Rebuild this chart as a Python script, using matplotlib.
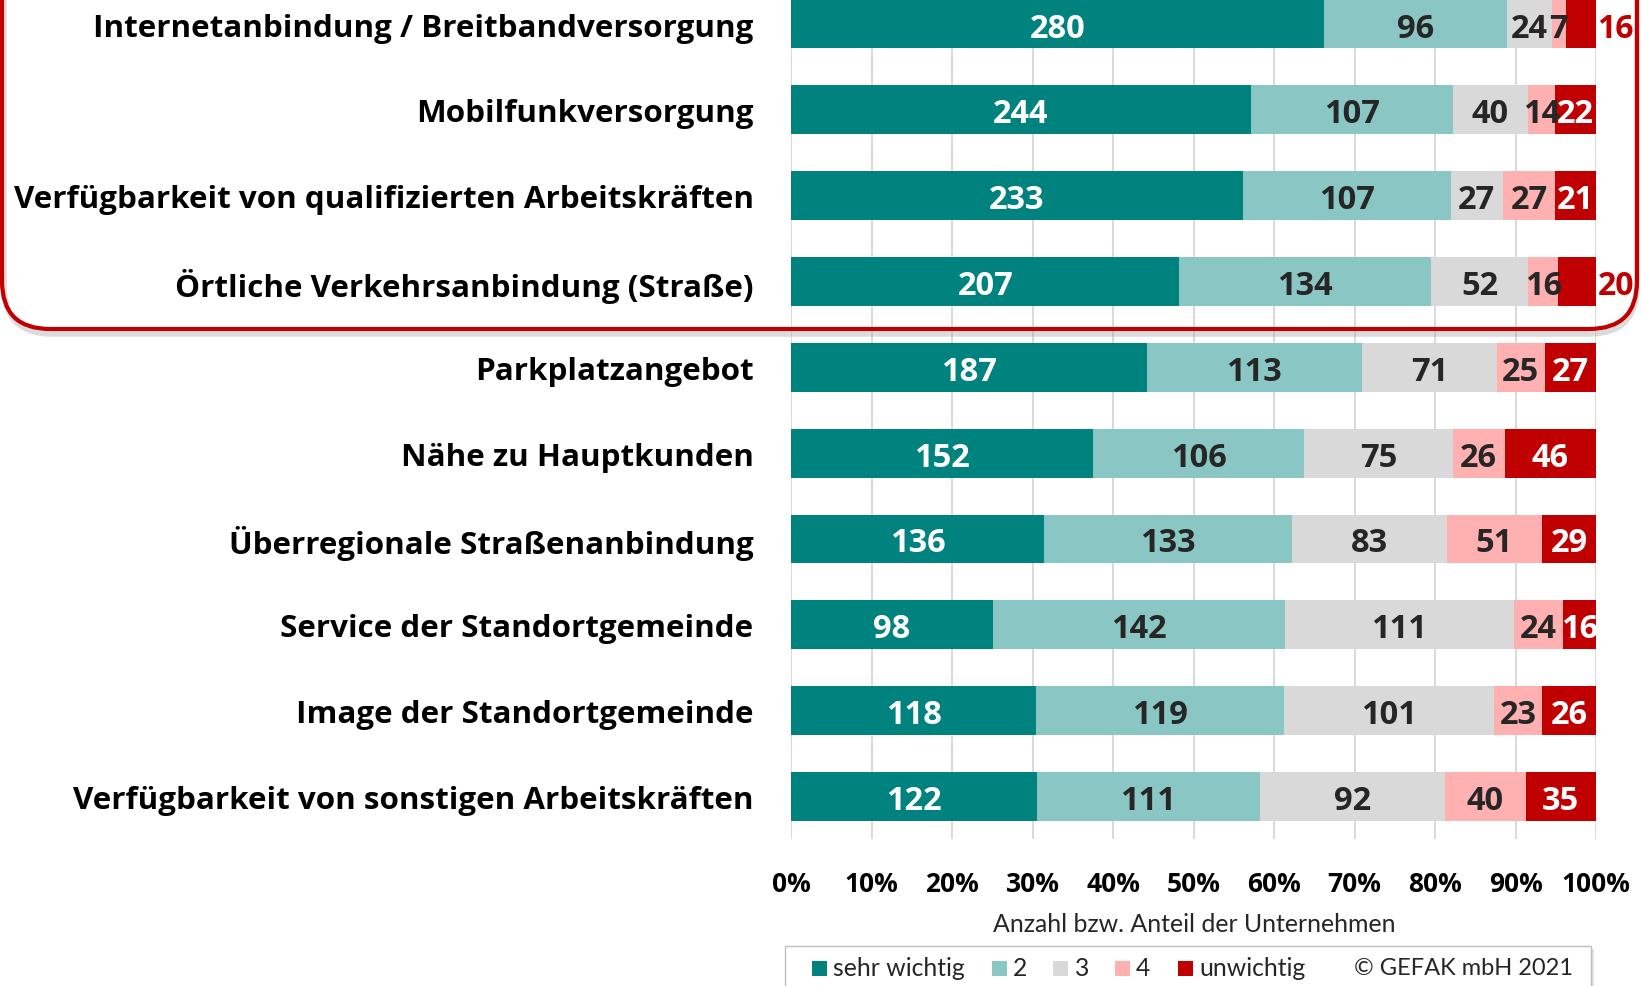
import matplotlib
matplotlib.use("Agg")
import matplotlib.pyplot as plt
from matplotlib.patches import FancyBboxPatch, Rectangle
from matplotlib.transforms import IdentityTransform
import numpy as np

categories = [
    "Internetanbindung / Breitbandversorgung",
    "Mobilfunkversorgung",
    "Verfügbarkeit von qualifizierten Arbeitskräften",
    "Örtliche Verkehrsanbindung (Straße)",
    "Parkplatzangebot",
    "Nähe zu Hauptkunden",
    "Überregionale Straßenanbindung",
    "Service der Standortgemeinde",
    "Image der Standortgemeinde",
    "Verfügbarkeit von sonstigen Arbeitskräften",
]
sehr_wichtig = [280, 244, 233, 207, 187, 152, 136, 98, 118, 122]
stufe_2 = [96, 107, 107, 134, 113, 106, 133, 142, 119, 111]
stufe_3 = [24, 40, 27, 52, 71, 75, 83, 111, 101, 92]
stufe_4 = [7, 14, 27, 16, 25, 26, 51, 24, 23, 40]
unwichtig = [16, 22, 21, 20, 27, 46, 29, 16, 26, 35]
series_names = ["sehr wichtig", "2", "3", "4", "unwichtig"]
xtick_labels = ["0%", "10%", "20%", "30%", "40%", "50%", "60%", "70%", "80%", "90%", "100%"]
x_label = "Anzahl bzw. Anteil der Unternehmen"
copyright_text = "© GEFAK mbH 2021"
outside_label_rows = [0, 3]

colors = ["#00827F", "#8AC6C4", "#D9D9D9", "#FFB1B1", "#C00000"]
label_colors = ["white", "#262626", "#262626", "#262626", "white"]

BOLD = ["Open Sans", "DejaVu Sans"]
REG = ["Lato", "DejaVu Sans"]
plt.rcParams["font.family"] = REG

W, H = 1641, 987
fig = plt.figure(figsize=(W / 100, H / 100), dpi=100)

def fx(x):
    return x / W

def fy(y):
    return 1 - y / H

ax_left, ax_right = 791, 1596
ax_top, ax_bottom = -17.9, 840.4
ax = fig.add_axes([fx(ax_left), fy(ax_bottom), (ax_right - ax_left) / W, (ax_bottom - ax_top) / H])

data = np.array([sehr_wichtig, stufe_2, stufe_3, stufe_4, unwichtig], dtype=float)
totals = data.sum(axis=0)
shares = data / totals * 100
n = len(categories)
ypos = np.arange(n)

VAL_FS = 23.5
left = np.zeros(n)
for k in range(5):
    ax.barh(ypos, shares[k], left=left, height=0.57, color=colors[k], zorder=2, label=series_names[k])
    for i in range(n):
        val = int(data[k, i])
        cx = left[i] + shares[k, i] / 2
        if k == 4 and i in outside_label_rows:
            ax.annotate(str(val), xy=(100, i), xytext=(1, 0), textcoords="offset points",
                        ha="left", va="center_baseline", color="#C00000", fontsize=VAL_FS - 0.5,
                        fontweight="bold", family=BOLD, zorder=4)
        else:
            ax.text(cx, i, str(val), ha="center", va="center_baseline", color=label_colors[k],
                    fontsize=VAL_FS, fontweight="bold", family=BOLD, zorder=4)
    left += shares[k]

ax.set_xlim(0, 100)
ax.set_ylim(n - 0.5, -0.5)
ax.set_xticks(np.arange(0, 101, 10))
ax.set_xticklabels(xtick_labels, fontsize=19, fontweight="bold", family=BOLD)
ax.set_yticks(ypos)
ax.set_yticklabels(categories, fontsize=22.6, fontweight="bold", family=BOLD)
ax.tick_params(axis="both", length=0)
ax.tick_params(axis="y", pad=27)
ax.tick_params(axis="x", pad=22)
ax.xaxis.grid(True, color="#D9D9D9", linewidth=1.4, zorder=0)
ax.set_axisbelow(True)
for s in ax.spines.values():
    s.set_visible(False)

fig.text(fx(1194), fy(925), x_label, ha="center", va="center", fontsize=17.9, color="#262626")

tr = IdentityTransform()
shadow = FancyBboxPatch((4, H - 335), 1633, 420, boxstyle="round,pad=0,rounding_size=48",
                        transform=tr, fill=False, edgecolor="#9a9a9a", linewidth=4, alpha=0.35,
                        zorder=0)
fig.patches.append(shadow)
box = FancyBboxPatch((2, H - 330), 1635, 420, boxstyle="round,pad=0,rounding_size=48",
                     transform=tr, fill=False, edgecolor="#C00000", linewidth=3, zorder=5)
fig.patches.append(box)

leg_shadow = Rectangle((788, -20), 806, H - 947 + 17, transform=tr, facecolor="#d0d0d0",
                       edgecolor="none", alpha=0.6, zorder=0)
fig.patches.append(leg_shadow)
leg = Rectangle((785, -20), 806, H - 947 + 20, transform=tr, facecolor="white",
                edgecolor="#BFBFBF", linewidth=1, zorder=1)
fig.patches.append(leg)

sq_x = [819.5, 999.5, 1060, 1122, 1185]
txt_x = [833, 1013, 1075, 1136, 1199.5]
ly = 969
for k in range(5):
    fig.patches.append(Rectangle((sq_x[k] - 7.5, H - ly - 7.5), 15, 15, transform=tr,
                                 facecolor=colors[k], edgecolor="none", zorder=2))
    fig.text(fx(txt_x[k]), fy(ly), series_names[k], ha="left", va="center", fontsize=17.8, color="#262626")
fig.text(fx(1354), fy(ly), copyright_text, ha="left", va="center", fontsize=17, color="#262626")

fig.savefig("out.png", dpi=100)
